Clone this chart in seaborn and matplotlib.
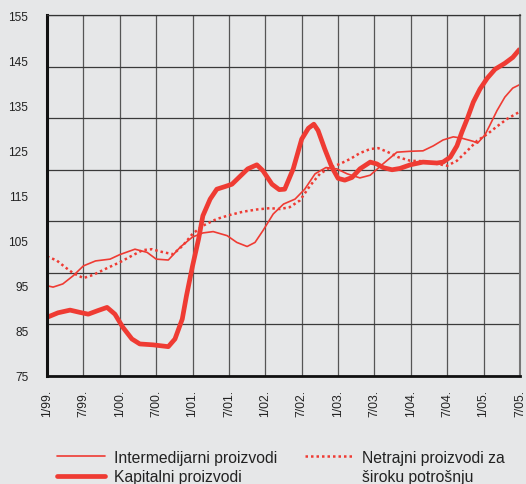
import numpy as np
import matplotlib
matplotlib.use("Agg")
import matplotlib.pyplot as plt
from matplotlib.lines import Line2D
import seaborn as sns

# months since 1/99
tick_months = list(range(0, 79, 6))
tick_labels = ["1/99.", "7/99.", "1/00.", "7/00.", "1/01.", "7/01.", "1/02.",
               "7/02.", "1/03.", "7/03.", "1/04.", "7/04.", "1/05.", "7/05."]

inter_months = [0, 1, 2.6, 4.3, 6, 8, 10.4, 12, 14.5, 16.5, 18, 20, 22, 24, 25.7,
                27.4, 29.7, 31.3, 33, 34.3, 35.6, 37.3, 39, 40.9, 42.5, 44.2, 46,
                47.8, 49.5, 51.6, 53.3, 55.4, 57.7, 59.9, 62, 63.7, 65.3, 67, 68.4,
                70.3, 71, 72.2, 73, 74.2, 75.5, 76.8, 78]
inter_values = [95.0, 94.7, 95.4, 97.2, 99.4, 100.5, 100.9, 101.9, 103.1, 102.4,
                100.9, 100.7, 103.6, 105.8, 106.7, 107.0, 106.1, 104.6, 103.7, 104.6,
                107.2, 110.9, 113.1, 114.2, 116.4, 119.8, 121.2, 120.9, 119.8, 118.9,
                119.5, 122.0, 124.6, 124.8, 124.9, 126.0, 127.3, 128.0, 127.7, 127.0,
                126.6, 128.4, 130.5, 133.8, 136.8, 138.8, 139.6]

kap_months = [0, 1.8, 3.8, 5.4, 6.8, 8.4, 9.9, 11.2, 12.5, 14, 15.3, 17.5, 20, 21.1,
              22.3, 23, 24, 25, 25.7, 26.9, 28, 29.4, 30.5, 31.8, 33.1, 34.6, 35.6,
              37.1, 38.3, 39.2, 40.6, 42, 43.1, 44, 44.7, 45.8, 47, 48, 49.1, 50.3,
              51.6, 53.3, 54.4, 55.4, 56.9, 58.2, 59.9, 62, 64.3, 65.3, 66.5, 67.6,
              68.4, 69.3, 70.3, 71.4, 72.6, 73.9, 75.5, 76.8, 78]
kap_values = [88.0, 89.0, 89.6, 89.1, 88.7, 89.5, 90.2, 88.7, 85.8, 83.2, 82.1, 81.9,
              81.5, 83.2, 87.6, 92.8, 99.4, 105.4, 110.5, 114.2, 116.4, 117.0, 117.5,
              119.2, 120.9, 121.8, 120.5, 117.5, 116.3, 116.4, 120.9, 127.5, 129.9,
              130.8, 129.4, 125.3, 121.2, 118.8, 118.4, 119.0, 120.9, 122.4, 122.0,
              121.2, 120.7, 121.0, 121.8, 122.4, 122.2, 122.4, 123.5, 126.0, 129.0,
              132.0, 135.7, 138.6, 141.0, 143.0, 144.3, 145.6, 147.5]

netr_months = [0, 1.6, 3, 4.3, 6, 7.6, 9.9, 12, 14.2, 15.8, 17.3, 18.6, 20, 20.8,
               22.4, 24, 25.7, 28, 30.2, 32.3, 34.6, 36.8, 38.4, 40, 41.7, 43.4, 45,
               46.7, 48.3, 50, 51.6, 53.3, 54.6, 56.1, 57.9, 59.9, 62, 64.3, 66, 67.6,
               69.3, 70.9, 72.6, 74.2, 75.9, 78]
netr_values = [101.5, 100.6, 99.1, 97.8, 96.7, 97.4, 98.9, 100.2, 101.8, 102.9,
               103.1, 102.6, 102.2, 102.0, 103.9, 106.5, 108.3, 109.8, 110.7, 111.4,
               111.9, 112.2, 112.0, 112.4, 113.9, 117.2, 119.8, 121.2, 122.0, 123.1,
               124.4, 125.3, 125.5, 124.7, 123.5, 122.7, 122.6, 122.0, 121.6, 122.7,
               124.9, 127.1, 128.6, 130.3, 132.0, 133.6]

bg = "#e6e7e8"
red = "#ef3b33"
txt = "#222222"

sns.set_style("white", {"axes.facecolor": bg, "figure.facecolor": bg})
plt.rcParams["font.family"] = ["Liberation Sans", "DejaVu Sans"]

fig = plt.figure(figsize=(5.26, 4.85), dpi=100)
ax = fig.add_axes([0.0894, 0.2227, 0.8992, 0.7443])

sns.lineplot(x=inter_months, y=inter_values, ax=ax, sort=False, errorbar=None,
             color=red, linewidth=1.2, zorder=3)
sns.lineplot(x=netr_months, y=netr_values, ax=ax, sort=False, errorbar=None,
             color=red, linewidth=1.8, linestyle=(0, (1, 1.2)), zorder=3)
sns.lineplot(x=kap_months, y=kap_values, ax=ax, sort=False, errorbar=None,
             color=red, linewidth=3.4, zorder=4, solid_capstyle="butt")

ax.set_xlim(0, 78)
ax.set_ylim(75, 155)
ax.set_xlabel("")
ax.set_ylabel("")

# y labels every 10, grid on 7 equal divisions (as in the original)
ax.yaxis.remove_overlapping_locs = False
ax.set_yticks(range(75, 156, 10))
ax.set_yticks(np.linspace(75, 155, 8), minor=True)
ax.tick_params(axis="y", which="major", length=0, pad=13.5, labelsize=8.6, labelcolor=txt)
ax.tick_params(axis="y", which="minor", length=5, width=0.9, color="#333333")
ax.grid(True, axis="y", which="minor", color="#3a3a3a", linewidth=0.9)

ax.set_xticks(tick_months)
ax.set_xticklabels(tick_labels, rotation=90)
ax.tick_params(axis="x", length=5, width=0.9, color="#333333", pad=4.5,
               labelsize=8.8, labelcolor=txt)
ax.grid(True, axis="x", which="major", color="#555555", linewidth=0.9)
ax.set_axisbelow(True)

for side, col, lw in [("left", "#111111", 2.2), ("bottom", "#111111", 2.0),
                      ("top", "#333333", 0.9), ("right", "#777777", 1.5)]:
    ax.spines[side].set_visible(True)
    ax.spines[side].set_color(col)
    ax.spines[side].set_linewidth(lw)
    ax.spines[side].set_zorder(5)

handles = [
    Line2D([], [], color=red, linewidth=1.2),
    Line2D([], [], color=red, linewidth=3.4),
    Line2D([], [], color=red, linewidth=1.8, linestyle=(0, (1, 1.2))),
    Line2D([], [], color="none"),
]
labels = ["Intermedijarni proizvodi", "Kapitalni proizvodi",
          "Netrajni proizvodi za", "široku potrošnju"]
fig.legend(handles, labels, ncol=2, loc="upper left", bbox_to_anchor=(0.108, 0.071),
           frameon=False, fontsize=11.3, labelcolor=txt, handlelength=3.1,
           handletextpad=0.57, columnspacing=1.72, labelspacing=0.3,
           borderpad=0, borderaxespad=0)

fig.savefig("out.png", dpi=100, facecolor=bg)
